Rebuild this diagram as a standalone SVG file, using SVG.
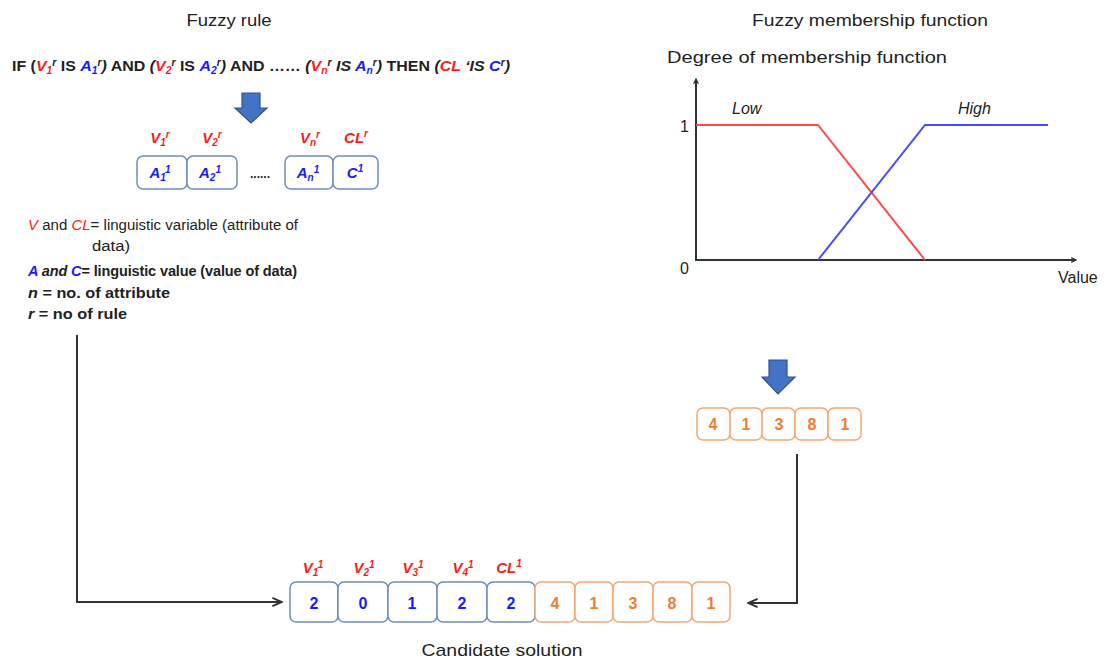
<svg xmlns="http://www.w3.org/2000/svg" width="1114" height="664" viewBox="0 0 1114 664">
<style>
text{font-family:"Liberation Sans","Open Sans",sans-serif;fill:#222}
.title{font-size:16px}
.b{font-weight:bold}
.i{font-style:italic}
.r{fill:#ff1a1a}
.bl{fill:#1a1aff}
.o{fill:#ed7d31}
.cellb{fill:#fff;stroke:#6f8dc0;stroke-width:1.5}
.cello{fill:#fff;stroke:#f4a672;stroke-width:1.5}
.arrowfill{fill:#4472c4;stroke:#2f528f;stroke-width:1.2}
.conn{fill:none;stroke:#333;stroke-width:2}
.axis{fill:none;stroke:#333;stroke-width:2}
.lbl{font-size:15px;font-weight:bold;font-style:italic;text-anchor:middle}
.num{font-size:16px;font-weight:bold;text-anchor:middle}
</style>
<defs>
<marker id="ah" viewBox="0 0 10 10" refX="9" refY="5" markerWidth="6" markerHeight="6" orient="auto-start-reverse" markerUnits="userSpaceOnUse">
<path d="M1,1 L9,5 L1,9" fill="none" stroke="#333" stroke-width="2"/>
</marker>
<marker id="ah2" viewBox="0 0 10 10" refX="9" refY="5" markerWidth="12" markerHeight="12" orient="auto-start-reverse" markerUnits="userSpaceOnUse">
<path d="M1,1.5 L9,5 L1,8.5" fill="none" stroke="#333" stroke-width="1.6"/>
</marker>
</defs>
<rect width="1114" height="664" fill="#fff"/>

<g id="title-rule"><text class="title" x="229" y="26" text-anchor="middle" font-size="17" textLength="85" lengthAdjust="spacingAndGlyphs">Fuzzy rule</text></g>
<g id="title-mf"><text class="title" x="870" y="26" text-anchor="middle" textLength="236" lengthAdjust="spacingAndGlyphs">Fuzzy membership function</text></g>

<g id="rule">
<text x="12" y="71" class="b" font-size="15.5" textLength="498" lengthAdjust="spacingAndGlyphs">IF (<tspan class="r i">V</tspan><tspan class="r i" font-size="10" dy="3">1</tspan><tspan class="i" font-size="10" dy="-8">r</tspan><tspan dy="5"> IS </tspan><tspan class="bl i">A</tspan><tspan class="bl i" font-size="10" dy="3">1</tspan><tspan class="i" font-size="10" dy="-8">r</tspan><tspan class="i" dy="5">)</tspan> AND <tspan class="i">(</tspan><tspan class="r i">V</tspan><tspan class="r i" font-size="10" dy="3">2</tspan><tspan class="i" font-size="10" dy="-8">r</tspan><tspan dy="5"> IS </tspan><tspan class="bl i">A</tspan><tspan class="bl i" font-size="10" dy="3">2</tspan><tspan class="i" font-size="10" dy="-8">r</tspan><tspan class="i" dy="5">)</tspan> AND …… <tspan class="i">(</tspan><tspan class="r i">V</tspan><tspan class="r i" font-size="10" dy="3">n</tspan><tspan class="i" font-size="10" dy="-8">r</tspan><tspan class="i" dy="5"> IS </tspan><tspan class="bl i">A</tspan><tspan class="bl i" font-size="10" dy="3">n</tspan><tspan class="i" font-size="10" dy="-8">r</tspan><tspan class="i" dy="5">)</tspan> THEN <tspan class="i">(</tspan><tspan class="r i">CL</tspan><tspan class="i"> ‘IS </tspan><tspan class="bl i">C</tspan><tspan class="i" font-size="10" dy="-5">r</tspan><tspan class="i" dy="5">)</tspan></text>
</g>

<g id="arrow-rule"><path class="arrowfill" d="M242,93 H260 V108 H267 L251,123 L235,108 H242 Z"/></g>

<g id="rule-encoding">
<text class="lbl r" x="160" y="143">V<tspan font-size="10" dy="3">1</tspan><tspan font-size="10" dy="-8">r</tspan></text>
<text class="lbl r" x="212" y="143">V<tspan font-size="10" dy="3">2</tspan><tspan font-size="10" dy="-8">r</tspan></text>
<text class="lbl r" x="310" y="143">V<tspan font-size="10" dy="3">n</tspan><tspan font-size="10" dy="-8">r</tspan></text>
<text class="lbl r" x="356" y="143">CL<tspan font-size="10" dy="-6">r</tspan></text>
<rect class="cellb" x="137" y="156" width="50" height="33" rx="6"/>
<rect class="cellb" x="187" y="156" width="50" height="33" rx="6"/>
<rect class="cellb" x="285" y="156" width="48" height="33" rx="6"/>
<rect class="cellb" x="333" y="156" width="45" height="33" rx="6"/>
<text class="lbl bl" x="160" y="178">A<tspan font-size="10" dy="3">1</tspan><tspan font-size="10" dy="-8">1</tspan></text>
<text class="lbl bl" x="210" y="178">A<tspan font-size="10" dy="3">2</tspan><tspan font-size="10" dy="-8">1</tspan></text>
<text class="b" x="260" y="178" font-size="12" text-anchor="middle">......</text>
<text class="lbl bl" x="308" y="178">A<tspan font-size="10" dy="3">n</tspan><tspan font-size="10" dy="-8">1</tspan></text>
<text class="lbl bl" x="355" y="178">C<tspan font-size="10" dy="-6">1</tspan></text>
</g>

<g id="legend">
<text x="28" y="230" font-size="14" textLength="270" lengthAdjust="spacingAndGlyphs"><tspan class="r i">V</tspan> and <tspan class="r i">CL</tspan>= linguistic variable (attribute  of</text>
<text x="92" y="251" font-size="14" textLength="38" lengthAdjust="spacingAndGlyphs">data)</text>
<text x="28" y="276" font-size="14.5" class="b" textLength="269" lengthAdjust="spacing"><tspan class="bl i">A</tspan><tspan class="i"> and </tspan><tspan class="bl i">C</tspan>= linguistic value (value of  data)</text>
<text x="28" y="298" font-size="15" class="b" textLength="142" lengthAdjust="spacingAndGlyphs"><tspan class="i">n</tspan> = no. of attribute</text>
<text x="28" y="319" font-size="15" class="b" textLength="99" lengthAdjust="spacingAndGlyphs"><tspan class="i">r</tspan> = no of rule</text>
</g>

<g id="chart">
<text x="667" y="63" font-size="16" textLength="280" lengthAdjust="spacingAndGlyphs">Degree of membership function</text>
<line class="axis" x1="696" y1="260" x2="696" y2="79" marker-end="url(#ah)"/>
<line class="axis" x1="695" y1="260" x2="1076" y2="260" marker-end="url(#ah)"/>
<text x="680" y="132" font-size="16">1</text>
<text x="680" y="274" font-size="16">0</text>
<text x="1058" y="283" font-size="16">Value</text>
<text x="732" y="114" font-size="16" class="i">Low</text>
<text x="958" y="114" font-size="16" class="i">High</text>
<polyline points="696,125 818,125 925,260" fill="none" stroke="#ff4a4a" stroke-width="2"/>
<polyline points="818,260 925,125 1048,125" fill="none" stroke="#4a4aff" stroke-width="2"/>
</g>

<g id="arrow-mf"><path class="arrowfill" d="M769,360 H787 V377 H795 L778,394 L762,377 H769 Z"/></g>

<g id="mf-encoding">
<rect class="cello" x="697" y="408" width="33" height="32" rx="6"/>
<rect class="cello" x="730" y="408" width="32" height="32" rx="6"/>
<rect class="cello" x="762" y="408" width="33" height="32" rx="6"/>
<rect class="cello" x="795" y="408" width="33" height="32" rx="6"/>
<rect class="cello" x="828" y="408" width="33" height="32" rx="6"/>
<text class="num o" x="713" y="430">4</text>
<text class="num o" x="746" y="430">1</text>
<text class="num o" x="779" y="430">3</text>
<text class="num o" x="812" y="430">8</text>
<text class="num o" x="845" y="430">1</text>
</g>

<g id="candidate">
<text class="lbl r" x="313" y="573">V<tspan font-size="10" dy="3">1</tspan><tspan font-size="10" dy="-8">1</tspan></text>
<text class="lbl r" x="364" y="573">V<tspan font-size="10" dy="3">2</tspan><tspan font-size="10" dy="-8">1</tspan></text>
<text class="lbl r" x="413" y="573">V<tspan font-size="10" dy="3">3</tspan><tspan font-size="10" dy="-8">1</tspan></text>
<text class="lbl r" x="463" y="573">V<tspan font-size="10" dy="3">4</tspan><tspan font-size="10" dy="-8">1</tspan></text>
<text class="lbl r" x="509" y="573">CL<tspan font-size="10" dy="-6">1</tspan></text>
<rect class="cellb" x="290" y="582" width="48" height="40" rx="6"/>
<rect class="cellb" x="338" y="582" width="50" height="40" rx="6"/>
<rect class="cellb" x="388" y="582" width="49" height="40" rx="6"/>
<rect class="cellb" x="437" y="582" width="50" height="40" rx="6"/>
<rect class="cellb" x="487" y="582" width="48" height="40" rx="6"/>
<rect class="cello" x="535" y="582" width="40" height="40" rx="6"/>
<rect class="cello" x="575" y="582" width="38" height="40" rx="6"/>
<rect class="cello" x="613" y="582" width="40" height="40" rx="6"/>
<rect class="cello" x="653" y="582" width="39" height="40" rx="6"/>
<rect class="cello" x="692" y="582" width="38" height="40" rx="6"/>
<text class="num bl" x="314" y="609">2</text>
<text class="num bl" x="363" y="609">0</text>
<text class="num bl" x="412" y="609">1</text>
<text class="num bl" x="462" y="609">2</text>
<text class="num bl" x="511" y="609">2</text>
<text class="num o" x="555" y="609">4</text>
<text class="num o" x="594" y="609">1</text>
<text class="num o" x="633" y="609">3</text>
<text class="num o" x="672" y="609">8</text>
<text class="num o" x="711" y="609">1</text>
<text x="502" y="656" font-size="17" text-anchor="middle" textLength="161" lengthAdjust="spacingAndGlyphs">Candidate solution</text>
</g>

<g id="connectors">
<polyline class="conn" points="77,335 77,602 282,602" marker-end="url(#ah2)"/>
<polyline class="conn" points="797,454 797,603 748,603" marker-end="url(#ah2)"/>
</g>
</svg>
